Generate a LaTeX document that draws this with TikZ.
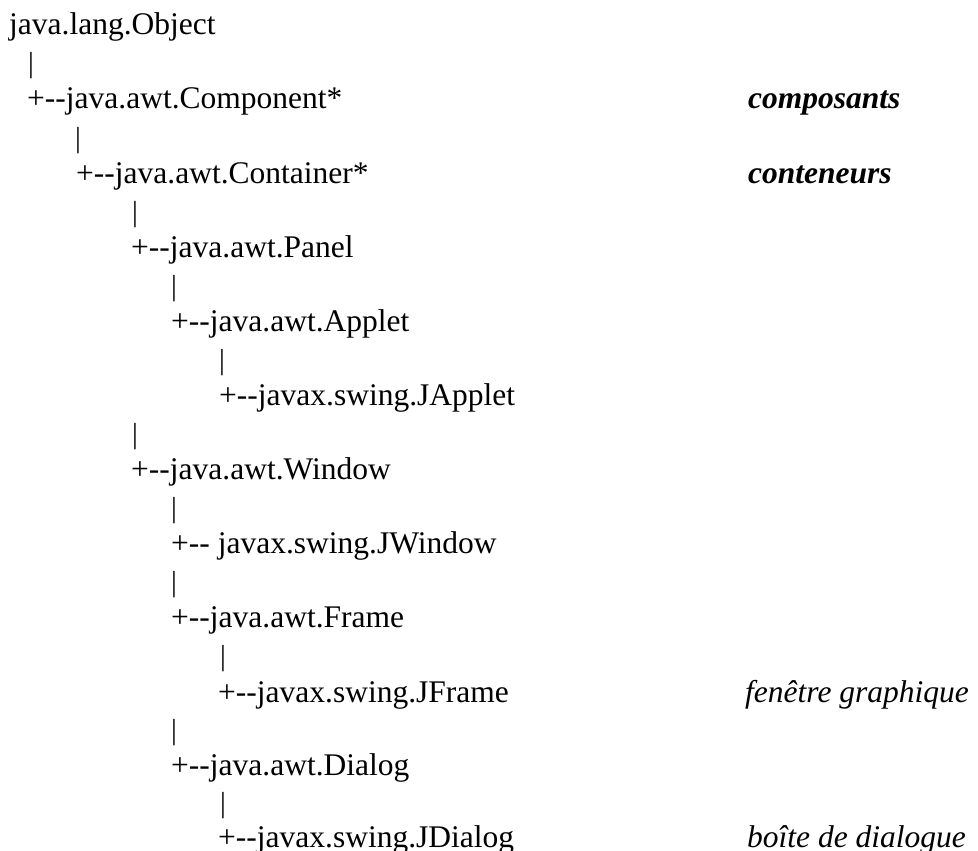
\documentclass[tikz,border=0pt]{standalone}
\usepackage{fontspec}
\setmainfont{Liberation Serif}[Ligatures=TeXOff]
\begin{document}
\begin{tikzpicture}[x=1pt,y=-1pt,
  txt/.style={anchor=base west,inner sep=0pt,font=\fontsize{31.5}{38}\selectfont},
  pipe/.style={anchor=base west,inner sep=0pt,font=\fontsize{29}{34}\selectfont},
  emb/.style={txt,font=\fontsize{31.5}{38}\selectfont\bfseries\itshape},
  emi/.style={txt,font=\fontsize{31.5}{38}\selectfont\itshape}]
\useasboundingbox (0,0) rectangle (978,851);
\node[txt] (obj) at (9,35) {java.lang.Object};
\node[pipe] (p1) at (28,73) {|};
\node[txt] (comp) at (27,109) {+--java.awt.Component*};
\node[pipe] (p2) at (75,147) {|};
\node[txt] (cont) at (76,183) {+--java.awt.Container*};
\node[pipe] (p3) at (132,221) {|};
\node[txt] (panel) at (131,257) {+--java.awt.Panel};
\node[pipe] (p4) at (171,295) {|};
\node[txt] (applet) at (171,331) {+--java.awt.Applet};
\node[pipe] (p5) at (219,369) {|};
\node[txt] (japplet) at (219,405) {+--javax.swing.JApplet};
\node[pipe] (p6) at (132,443) {|};
\node[txt] (window) at (131,479) {+--java.awt.Window};
\node[pipe] (p7) at (171,517) {|};
\node[txt] (jwindow) at (171,553) {+-- javax.swing.JWindow};
\node[pipe] (p8) at (171,591) {|};
\node[txt] (frame) at (171,627) {+--java.awt.Frame};
\node[pipe] (p9) at (220,665) {|};
\node[txt] (jframe) at (218,702) {+--javax.swing.JFrame};
\node[pipe] (p10) at (171,739) {|};
\node[txt] (dialog) at (171,775) {+--java.awt.Dialog};
\node[pipe] (p11) at (220,812) {|};
\node[txt] (jdialog) at (218,847) {+--javax.swing.JDialog};
\node[emb] (lcomp) at (748,109) {composants};
\node[emb] (lcont) at (748,183) {conteneurs};
\node[emi] (lframe) at (745,702) {fenêtre graphique};
\node[emi] (ldialog) at (747,847) {boîte de dialogue};
\end{tikzpicture}
\end{document}
